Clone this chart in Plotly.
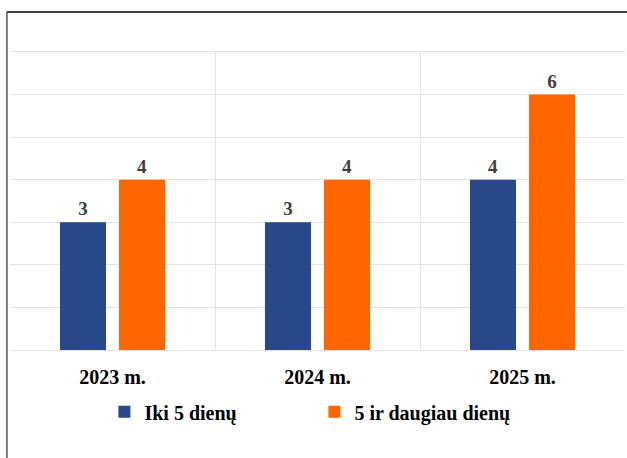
import plotly.graph_objects as go

categories = ["2023 m.", "2024 m.", "2025 m."]
series_names = ["Iki 5 dienų", "5 ir daugiau dienų"]
iki5 = [3, 3, 4]
daugiau5 = [4, 4, 6]

colors = ["#284889", "#FF6600"]
FONT = "Liberation Serif, Times New Roman, serif"

fig = go.Figure()
for name, vals, col in zip(series_names, [iki5, daugiau5], colors):
    fig.add_trace(go.Bar(
        x=categories, y=vals, name=name,
        marker=dict(color=col, line=dict(width=0)),
        text=vals, textposition="outside", cliponaxis=False,
        textfont=dict(family=FONT, size=19, color="#404040", weight="bold"),
    ))

fig.update_layout(
    width=627, height=458,
    margin=dict(l=10, r=2, t=52, b=108),
    paper_bgcolor="white", plot_bgcolor="white",
    barmode="group", bargap=0.424, bargroupgap=0.22,
    showlegend=True,
    legend=dict(orientation="h", x=0.495, xanchor="center", y=-0.142, yanchor="top",
                font=dict(family=FONT, size=20, color="black", weight="bold"),
                entrywidth=165, itemwidth=30, traceorder="normal"),
    xaxis=dict(type="category", tickson="boundaries", showgrid=True, gridcolor="#e3e3e3",
               gridwidth=1, showline=True, mirror=True, linecolor="#e3e3e3", ticks="",
               tickfont=dict(family=FONT, size=20, color="black", weight="bold"),
               ticklabelstandoff=9),
    yaxis=dict(range=[0, 7], dtick=1, showgrid=True, gridcolor="#e3e3e3", gridwidth=1,
               showticklabels=False, zeroline=False, ticks=""),
    shapes=[
        dict(type="line", xref="paper", yref="paper", x0=-0.005, x1=1.01, y0=1.134, y1=1.134,
             line=dict(color="black", width=1.5)),
        dict(type="line", xref="paper", yref="paper", x0=-0.005, x1=-0.005, y0=1.134, y1=-0.4,
             line=dict(color="#555555", width=1.5)),
    ],
)

fig.write_html("out.html", config={"displayModeBar": False},
               post_script="document.body.style.margin='0';")
